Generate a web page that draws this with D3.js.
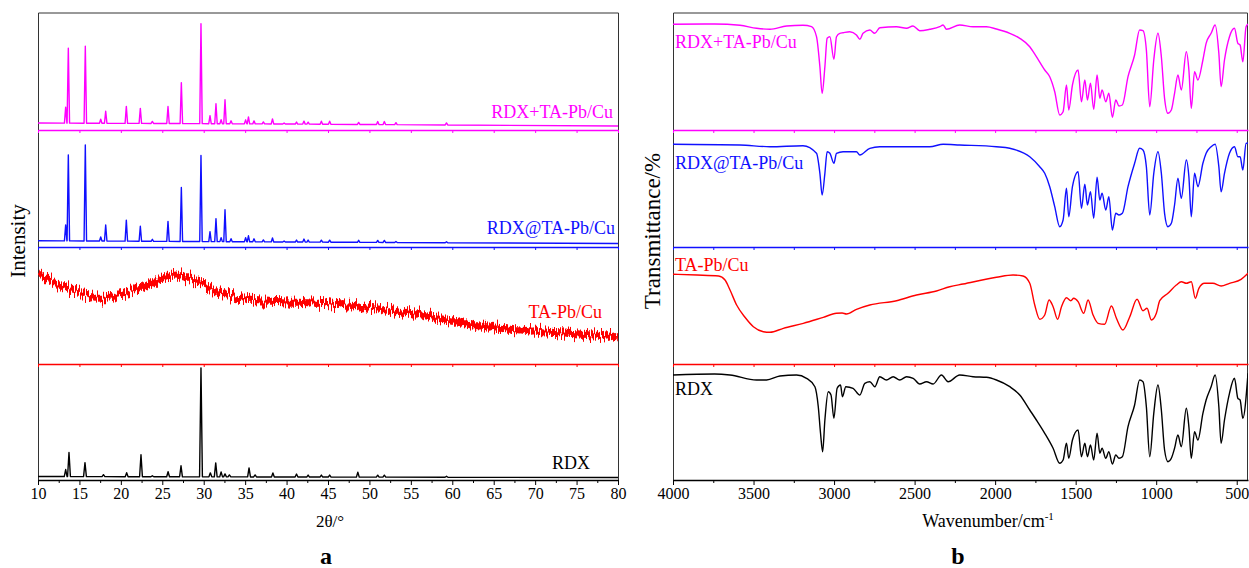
<!DOCTYPE html>
<html>
<head>
<meta charset="utf-8">
<script src="https://cdn.jsdelivr.net/npm/d3@7"></script>
<style>
  html, body { margin: 0; padding: 0; background: #fff; }
  svg { display: block; font-family: "Liberation Serif", "Times New Roman", serif; }
</style>
</head>
<body>
<script>
// ---------- Series names and colours ----------
const seriesNames = ["RDX+TA-Pb/Cu", "RDX@TA-Pb/Cu", "TA-Pb/Cu", "RDX"];
const seriesColors = ["#ff00ff", "#1010ff", "#ff0000", "#000000"];

// ---------- (a) XRD: peak lists [2θ, height above background] ----------
const xrdMixPeaks = [[13.34,16],[13.66,75],[15.71,77],[17.57,4],[18.17,12],[20.66,17],[22.35,15],[23.8,2],[25.69,17],[27.3,41],[29.67,100],[30.76,8],[31.48,20],[32.1,4],[32.57,24],[33.3,3],[35.06,4],[35.4,7],[36.07,3],[37.2,2],[38.3,5],[39.7,1],[41.2,2],[42.1,3],[42.6,2],[44.2,3],[45.2,3],[48.7,2],[51.0,3],[51.8,3],[53.2,2],[59.3,2]];
const xrdMixBackground = [[10,7],[40,6],[80,4]];

const xrdCoatedPeaks = [[13.34,16],[13.66,86],[15.71,96],[17.57,4],[18.17,16],[20.66,21],[22.35,15],[23.8,2],[25.69,20],[27.3,54],[29.67,86],[30.76,10],[31.48,23],[32.1,4],[32.57,32],[33.3,3],[35.06,4],[35.4,6],[36.07,3],[37.2,2],[38.3,4],[39.7,1],[41.2,2],[42.1,3],[42.6,2],[44.2,2],[45.2,2],[48.7,2],[51.0,2],[51.8,2],[53.2,1],[59.3,1]];
const xrdCoatedBackground = [[10,6.3],[40,5],[80,3.5]];

// amorphous TA-Pb/Cu hump: [2θ, intensity]
const xrdTaTrend = [[10,90.7],[11.5,83],[13.5,75.7],[15.5,70],[17.5,65.7],[19.9,69],[22.3,77.3],[24.7,85.7],[26.7,89],[28.3,85.7],[30.4,77.3],[32.8,69],[35.2,64],[39.6,62.3],[45.2,60],[51.2,55.7],[57.3,47.3],[63.3,38],[69.3,33.3],[75.4,30],[80,27.3]];

const xrdRdxPeaks = [[13.34,7],[13.74,24],[15.67,14],[17.9,2],[20.7,4],[22.43,22],[23.8,1],[25.7,5],[27.26,11],[29.67,109],[30.8,4],[31.45,14],[32.1,5],[32.57,3],[33.1,2],[35.47,9],[36.2,2],[38.35,4],[41.2,3],[42.6,2],[44.2,2],[45.2,2],[48.6,5],[51.0,2],[51.8,2],[59.3,1]];
const xrdRdxBackground = [[10,3.5],[40,3],[80,2.5]];

const xrdTicks = [10,15,20,25,30,35,40,45,50,55,60,65,70,75,80];

// ---------- (b) FTIR: [wavenumber cm-1, transmittance a.u.] ----------
const ftirMix = [[4000,105.7],[3742,106],[3584,104.7],[3481,101.7],[3398,100.7],[3295,104],[3193,104.7],[3140,103.3],[3109,93.3],[3088,63.3],[3074,36.7],[3057,63.3],[3043,91.7],[3026,93.3],[3001,70.7],[2985,93.3],[2964,96.7],[2944,97.3],[2902,98.3],[2861,95],[2840,90.7],[2820,96.7],[2778,100],[2747,96.7],[2716,102.3],[2612,103.3],[2550,101.7],[2510,104],[2468,99.3],[2406,100.7],[2344,103.3],[2323,105],[2302,100.7],[2220,105],[2137,103.3],[2054,103.3],[1992,101],[1909,96.7],[1847,91.7],[1785,83.3],[1744,73.3],[1692,60],[1661,53.3],[1630,38.3],[1599,15],[1578,18.3],[1557,45],[1543,20],[1520,45],[1485,60],[1464,28.3],[1443,50],[1427,30],[1408,46.7],[1388,20.7],[1367,55],[1350,31.7],[1336,40],[1313,28.3],[1294,36.7],[1272,12.7],[1251,30],[1231,24],[1210,25],[1175,53.3],[1134,75],[1103,100],[1082,99.3],[1061,80],[1040,23.3],[1015,70],[989,96.7],[968,73.3],[948,31.7],[927,16.7],[906,20],[886,36.7],[865,55],[844,40],[813,78.3],[797,60],[782,21.7],[762,58.3],[741,50],[710,70],[690,86.7],[659,96.7],[634,105],[611,76.7],[597,43.3],[576,70],[545,93.3],[514,101.7],[493,86.7],[479,85],[462,68.3],[442,103.3],[430,106]];

const ftirCoated = [[4000,102.7],[3584,102],[3398,100.3],[3193,101.3],[3109,93.7],[3088,73.7],[3074,52],[3057,73.7],[3043,95.3],[3026,93.7],[3001,83.7],[2985,93.7],[2944,95.3],[2861,95.3],[2840,92],[2778,98.7],[2716,100.3],[2406,100.3],[2323,102.7],[2220,102],[1992,100.3],[1909,98.7],[1785,90.3],[1723,80.3],[1692,73.7],[1661,60.3],[1630,40.3],[1599,20.3],[1578,27],[1557,58.7],[1543,30.3],[1520,60.3],[1485,75.3],[1464,38.7],[1443,62.7],[1427,42],[1408,55.3],[1388,28.7],[1367,69.7],[1350,47],[1336,53.7],[1313,37],[1294,50.3],[1272,17],[1251,33.7],[1231,32],[1210,33.7],[1175,60.3],[1134,83.7],[1103,98.7],[1082,97],[1061,80.3],[1040,32],[1015,73.7],[989,95.3],[968,73.7],[948,33.7],[927,20.3],[906,23.7],[886,42],[865,68.7],[844,48.7],[813,87],[797,70.3],[782,30.3],[762,73.7],[741,60.3],[710,83.7],[690,93.7],[659,100.3],[634,102.7],[611,80.3],[597,55.3],[576,73.7],[545,93.7],[514,100.3],[493,90.3],[479,90.3],[462,77],[442,103.7],[430,104]];

const ftirTa = [[4000,89.7],[3851,89],[3717,88],[3677,84],[3646,74],[3605,59],[3553,46.7],[3501,37.3],[3439,32.3],[3398,31.7],[3315,35.7],[3191,40.7],[3067,46.7],[2985,50.7],[2950,51],[2923,50],[2861,54.7],[2778,59],[2612,63.3],[2488,69],[2364,73],[2282,77.3],[2199,80],[1992,86.7],[1889,89],[1827,88],[1785,80.7],[1754,59],[1723,44.7],[1692,49],[1665,64],[1640,57.3],[1612,44.7],[1588,57.3],[1557,66.3],[1530,63.3],[1512,65.7],[1485,62.3],[1450,50.7],[1423,64],[1392,49],[1361,40.7],[1320,39.7],[1278,58],[1247,45.7],[1206,34],[1164,47.3],[1119,64.7],[1082,53.3],[1057,55.7],[1030,44],[999,50.7],[978,63.3],[927,70.7],[875,79],[844,82.3],[813,80.7],[782,82.3],[757,65.7],[735,75.7],[700,80.7],[648,80.7],[597,78],[545,80.7],[473,84.7],[430,90.7]];

const ftirRdx = [[4000,105],[3742,106],[3646,105],[3481,100],[3419,100],[3336,104],[3233,105],[3171,101.7],[3119,93.3],[3098,73.3],[3084,46.7],[3071,28.3],[3057,60],[3036,88.3],[3019,85],[3001,61.7],[2981,91.7],[2960,95],[2948,83.3],[2927,93.3],[2882,91.7],[2840,85],[2809,96.7],[2778,98.3],[2747,93.3],[2716,103.3],[2675,100],[2633,103.3],[2592,100],[2550,103.3],[2509,101.7],[2468,96],[2426,98.3],[2385,96],[2333,105],[2292,98.3],[2220,105],[2137,103.3],[2054,102.7],[1992,100],[1909,93.3],[1847,85],[1785,70],[1744,60],[1692,46.7],[1640,31.7],[1599,16.7],[1578,20],[1557,36.7],[1543,21.7],[1520,40],[1485,50],[1464,23.3],[1443,36.7],[1427,23.3],[1408,35],[1388,20],[1367,46.7],[1350,26.7],[1336,31.7],[1313,21.7],[1294,28.3],[1272,16],[1251,25],[1231,21.7],[1210,23.3],[1175,53.3],[1134,75],[1103,100],[1082,98.3],[1061,73.3],[1040,23.3],[1015,66.7],[989,95],[968,70],[948,30],[927,18.3],[906,21.7],[886,31.7],[865,45],[844,33.3],[813,71.7],[797,53.3],[782,21.7],[762,48.3],[741,40],[710,66.7],[690,80],[659,93.3],[634,105],[611,73.3],[597,36.7],[576,60],[545,86.7],[514,101.7],[493,81.7],[479,80],[462,61.7],[430,106.7]];

const ftirTicksMajor = [4000,3500,3000,2500,2000,1500,1000,500];
const ftirTicksMinor = [3750,3250,2750,2250,1750,1250,750];

// ---------- Layout ----------
const W = 1249, H = 568;
const frameTop = 13;
const bandBottoms = [130, 247, 364, 480];
const bandHeight = 117;

const svg = d3.select("body").append("svg").attr("width", W).attr("height", H);

const xA = d3.scaleLinear().domain([10, 80]).range([38, 618]);
const xB = d3.scaleLinear().domain([4000, 430]).range([673, 1248]);
const bandY = i => d3.scaleLinear().domain([0, bandHeight]).range([bandBottoms[i], bandBottoms[i] - bandHeight]);

const defs = svg.append("defs");
defs.append("clipPath").attr("id", "clipB")
  .append("rect").attr("x", 673).attr("y", frameTop).attr("width", 1248 - 673).attr("height", 480 - frameTop);
defs.append("clipPath").attr("id", "clipA")
  .append("rect").attr("x", 38).attr("y", frameTop).attr("width", 580).attr("height", 480 - frameTop);

// detector-noise texture for the amorphous pattern: column-wise vertical jitter
const grain = defs.append("filter").attr("id", "grain")
  .attr("x", "-2%").attr("y", "-40%").attr("width", "104%").attr("height", "180%");
grain.append("feTurbulence").attr("type", "fractalNoise").attr("baseFrequency", "0.7 0.015")
  .attr("numOctaves", 2).attr("seed", 7).attr("result", "n");
grain.append("feDisplacementMap").attr("in", "SourceGraphic").attr("in2", "n")
  .attr("scale", 18).attr("xChannelSelector", "B").attr("yChannelSelector", "G");

// Build an XRD polyline: background with each peak drawn as a narrow spike
function xrdVertices(peaks, background, halfWidth) {
  const bg = d3.scaleLinear().domain(background.map(d => d[0])).range(background.map(d => d[1]));
  const pts = [[10, bg(10)]];
  peaks.slice().sort((a, b) => a[0] - b[0]).forEach(([p, h]) => {
    pts.push([p - halfWidth, bg(p - halfWidth)], [p, bg(p) + h], [p + halfWidth, bg(p + halfWidth)]);
  });
  pts.push([80, bg(80)]);
  return pts;
}

// ---------- Frames ----------
function frame(x0, x1) {
  const g = svg.append("g").attr("stroke", "#333").attr("stroke-width", 1).attr("fill", "none");
  g.append("path").attr("d", `M${x0},480V${frameTop}H${x1}V480`);
}
frame(xA.range()[0] + 0.5, xA.range()[1] + 0.5);
frame(xB.range()[0] + 0.5, xB.range()[1] - 0.5);

// ---------- Stacked sub-axes ----------
function subAxis(scale, i, majors, minors, labelled) {
  const c = seriesColors[i];
  const g = svg.append("g").attr("transform", `translate(0,${bandBottoms[i]})`).attr("color", c);
  g.call(d3.axisBottom(scale).tickValues(majors).tickSize(labelled ? 5 : 3).tickSizeOuter(0)
      .tickPadding(3).tickFormat(labelled ? d3.format("d") : ""));
  g.select(".domain").attr("stroke-width", 1.4);
  g.selectAll(".tick line").attr("stroke-width", 1);
  g.selectAll(".tick text").attr("font-size", 16).attr("fill", "#000")
    .attr("font-family", "'Liberation Serif', 'Times New Roman', serif");
  if (minors) {
    const m = svg.append("g").attr("transform", `translate(0,${bandBottoms[i]})`).attr("color", c);
    m.call(d3.axisBottom(scale).tickValues(minors).tickSize(3).tickSizeOuter(0).tickFormat(""));
    m.select(".domain").remove();
  }
  return g;
}
for (let i = 0; i < 4; i++) {
  const last = i === 3;
  subAxis(xA, i, xrdTicks, last ? d3.range(12.5, 80, 5) : null, last);
  subAxis(xB, i, ftirTicksMajor, ftirTicksMinor, last);
}

// ---------- (a) XRD curves ----------
const lineA = i => d3.line().x(d => xA(d[0])).y(d => bandY(i)(d[1]));
const xrdSets = [
  xrdVertices(xrdMixPeaks, xrdMixBackground, 0.15),
  xrdVertices(xrdCoatedPeaks, xrdCoatedBackground, 0.15),
  null,
  xrdVertices(xrdRdxPeaks, xrdRdxBackground, 0.17)
];
xrdSets.forEach((pts, i) => {
  if (!pts) return;
  svg.append("path").attr("d", lineA(i)(pts)).attr("fill", "none")
    .attr("stroke", seriesColors[i]).attr("stroke-width", 1.4).attr("stroke-linejoin", "round");
});
// amorphous hump: a broad band with noise texture
svg.append("g").attr("clip-path", "url(#clipA)")
  .append("path").attr("d", lineA(2).curve(d3.curveMonotoneX)(xrdTaTrend)).attr("fill", "none")
  .attr("filter", "url(#grain)")
  .attr("stroke", seriesColors[2]).attr("stroke-width", 7).attr("stroke-linejoin", "round");

// ---------- (b) FTIR curves ----------
const lineB = i => d3.line().x(d => xB(d[0])).y(d => bandY(i)(d[1])).curve(d3.curveMonotoneX);
[ftirMix, ftirCoated, ftirTa, ftirRdx].forEach((data, i) => {
  svg.append("path").attr("d", lineB(i)(data)).attr("fill", "none").attr("clip-path", "url(#clipB)")
    .attr("stroke", seriesColors[i]).attr("stroke-width", 1.4).attr("stroke-linejoin", "round");
});

// ---------- Series labels ----------
const labelA = [[613, 118], [615, 234], [602, 318], [590, 469]];
const labelB = [[675, 48], [675, 169], [675, 271], [675, 395]];
seriesNames.forEach((name, i) => {
  svg.append("text").attr("x", labelA[i][0]).attr("y", labelA[i][1]).attr("text-anchor", "end")
    .attr("font-size", 18).attr("fill", seriesColors[i]).text(name);
  svg.append("text").attr("x", labelB[i][0]).attr("y", labelB[i][1]).attr("text-anchor", "start")
    .attr("font-size", 18).attr("fill", seriesColors[i]).text(name);
});

// ---------- Axis titles ----------
svg.append("text").attr("transform", "translate(25,241) rotate(-90)").attr("text-anchor", "middle")
  .attr("font-size", 21).text("Intensity");
svg.append("text").attr("transform", "translate(660,231) rotate(-90)").attr("text-anchor", "middle")
  .attr("font-size", 23).text("Transmittance/%");

svg.append("text").attr("x", 330).attr("y", 527).attr("text-anchor", "middle").attr("font-size", 17).text("2θ/°");
const wn = svg.append("text").attr("x", 988).attr("y", 527).attr("text-anchor", "middle").attr("font-size", 18);
wn.append("tspan").text("Wavenumber/cm");
wn.append("tspan").attr("dy", -7).attr("font-size", 11).text("-1");

svg.append("text").attr("x", 326).attr("y", 564).attr("text-anchor", "middle").attr("font-size", 24)
  .attr("font-weight", "bold").text("a");
svg.append("text").attr("x", 958).attr("y", 564).attr("text-anchor", "middle").attr("font-size", 24)
  .attr("font-weight", "bold").text("b");
</script>
</body>
</html>
